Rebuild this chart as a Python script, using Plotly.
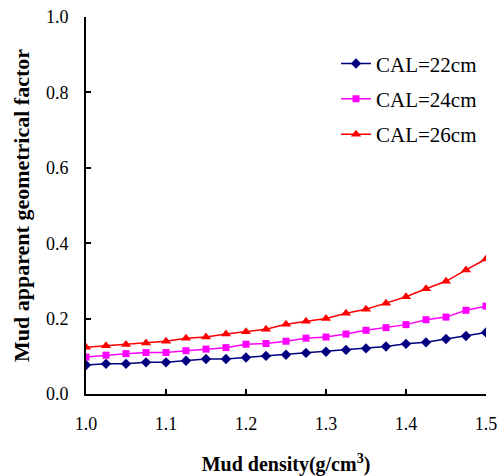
import plotly.graph_objects as go

density = [1.0, 1.025, 1.05, 1.075, 1.1, 1.125, 1.15, 1.175, 1.2, 1.225, 1.25,
           1.275, 1.3, 1.325, 1.35, 1.375, 1.4, 1.425, 1.45, 1.475, 1.5]
cal22 = [0.077, 0.080, 0.080, 0.084, 0.084, 0.088, 0.093, 0.093, 0.097, 0.101, 0.104,
         0.109, 0.112, 0.117, 0.121, 0.126, 0.133, 0.137, 0.146, 0.154, 0.163]
cal24 = [0.098, 0.103, 0.107, 0.110, 0.110, 0.115, 0.119, 0.123, 0.132, 0.134, 0.140,
         0.148, 0.151, 0.159, 0.169, 0.176, 0.184, 0.197, 0.204, 0.222, 0.233]
cal26 = [0.124, 0.128, 0.131, 0.135, 0.140, 0.148, 0.151, 0.159, 0.165, 0.172, 0.185,
         0.193, 0.200, 0.214, 0.225, 0.241, 0.258, 0.279, 0.299, 0.329, 0.358]
names = ["CAL=22cm", "CAL=24cm", "CAL=26cm"]
colors = ["#000080", "#FF00FF", "#FF0000"]
symbols = ["diamond", "square", "triangle-up"]
sizes = [8, 7, 9]

fig = go.Figure()
for i, ys in enumerate([cal22, cal24, cal26]):
    fig.add_trace(go.Scatter(
        x=density, y=ys, name=names[i], mode="lines+markers",
        line=dict(color=colors[i], width=1.5),
        marker=dict(symbol=symbols[i], size=sizes[i], color=colors[i]),
        legendgroup=str(i),
    ))

font_family = "'Times New Roman', 'Liberation Serif', 'DejaVu Serif', serif"
fig.update_layout(
    width=503, height=476,
    margin=dict(l=86, r=17, t=17, b=82, autoexpand=False),
    paper_bgcolor="white", plot_bgcolor="white",
    font=dict(family=font_family, size=17, color="black"),
    showlegend=True,
    legend=dict(x=0.625, y=0.93, xanchor="left", yanchor="top",
                bgcolor="rgba(0,0,0,0)", font=dict(size=21, family=font_family),
                tracegroupgap=5, itemwidth=30),
    xaxis=dict(range=[1.0, 1.5], tickvals=[1.0, 1.1, 1.2, 1.3, 1.4, 1.5],
               ticktext=["1.0", "1.1", "1.2", "1.3", "1.4", "1.5"],
               ticks="inside", ticklen=5, tickwidth=2, tickcolor="black",
               showline=True, linecolor="black", linewidth=2, showgrid=False,
               zeroline=False, tickfont=dict(size=18, family=font_family), ticklabelstandoff=12,
               automargin=False,
               title=dict(text="<b>Mud density(g/cm<sup>3</sup>)</b>",
                          font=dict(size=20, family=font_family), standoff=26)),
    yaxis=dict(range=[0, 1.0], tickvals=[0, 0.2, 0.4, 0.6, 0.8, 1.0],
               ticktext=["0.0", "0.2", "0.4", "0.6", "0.8", "1.0"],
               ticks="inside", ticklen=5, tickwidth=2, tickcolor="black",
               showline=True, linecolor="black", linewidth=2, showgrid=False,
               zeroline=False, tickfont=dict(size=18, family=font_family), ticklabelstandoff=12,
               automargin=False,
               title=dict(text="<b>Mud apparent geometrical factor</b>",
                          font=dict(size=22, family=font_family), standoff=10)),
)
fig.write_html("out.html")
